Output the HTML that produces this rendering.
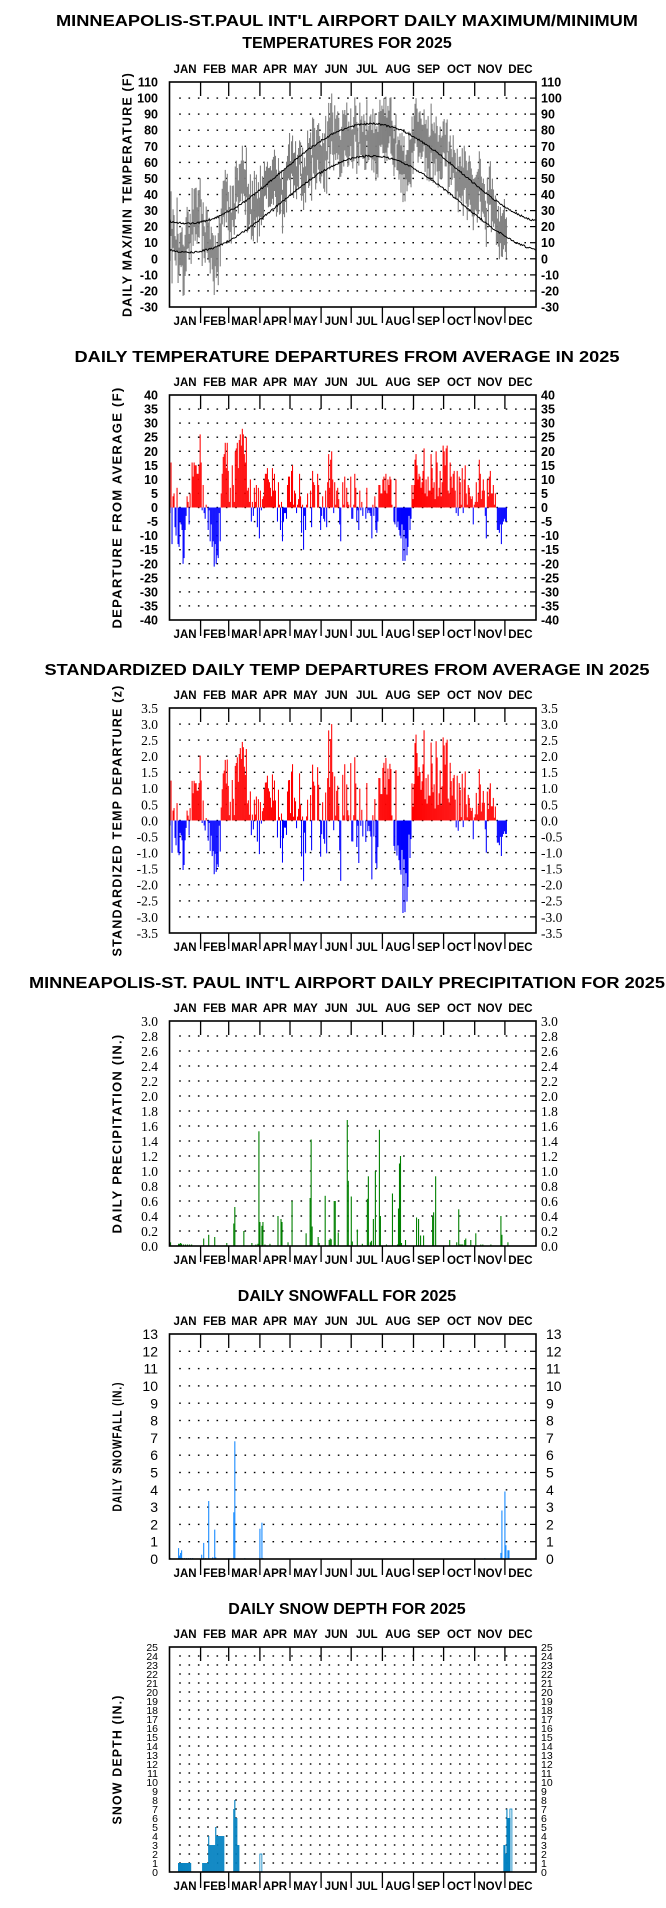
<!DOCTYPE html>
<html><head><meta charset="utf-8">
<style>
html,body{margin:0;padding:0;background:#fff;width:666px;height:1908px;overflow:hidden}
svg{display:block}
</style></head>
<body>
<svg id="s" xmlns="http://www.w3.org/2000/svg" width="666" height="1908" viewBox="0 0 666 1908"></svg>
<script>
(function(){
var S=document.getElementById('s');var out=[];
var L=169.5,R=536,W=R-L,H=225,DX=W/365;
function t(x,y,s,a){out.push('<text x="'+x+'" y="'+y+'" '+(a||'')+'>'+s+'</text>');}
var seed=12345;function rnd(){seed=(seed*16807)%2147483647;return (seed-1)/2147483646;}
var mStart=[0,31,59,90,120,151,181,212,243,273,304,334,365];
var mN=['JAN','FEB','MAR','APR','MAY','JUN','JUL','AUG','SEP','OCT','NOV','DEC'];
function frame(top,c){
  var b=top+H;
  c.title.forEach(function(tl,i){
    t(347,top-(c.title.length==2?(i==0?56:34):33),tl[0],'text-anchor="middle" font-family="Liberation Sans,sans-serif" font-weight="bold" font-size="16"'+(tl[1]?' textLength="'+tl[1]+'" lengthAdjust="spacingAndGlyphs"':''));
  });
  for(var m=0;m<12;m++){var cx=L+(mStart[m]+mStart[m+1])/2*DX;
    t(cx,top-9,mN[m],'text-anchor="middle" font-family="Liberation Sans,sans-serif" font-weight="bold" font-size="11.5"');
    t(cx,b+18,mN[m],'text-anchor="middle" font-family="Liberation Sans,sans-serif" font-weight="bold" font-size="11.5"');}
  for(var m=1;m<12;m++){var x=(L+mStart[m]*DX).toFixed(1);
    out.push('<line x1="'+x+'" y1="'+top+'" x2="'+x+'" y2="'+(top+14)+'" stroke="#000" stroke-width="1.3"/>');
    out.push('<line x1="'+x+'" y1="'+b+'" x2="'+x+'" y2="'+(b+16)+'" stroke="#000" stroke-width="1.3"/>');}
  var n=Math.round((c.ymax-c.ymin)/c.step);
  for(var k=0;k<=n;k++){var v=c.ymin+k*c.step;var y=b-k*H/n;
    var lab=c.fmt?c.fmt(v):String(v);
    t(158,y+c.fs*0.36,lab,'text-anchor="end" '+c.font);
    t(c.rx||541,y+c.fs*0.36,lab,c.font);
    if(k>0&&k<n){out.push('<line x1="'+(R-6)+'" y1="'+y.toFixed(1)+'" x2="'+R+'" y2="'+y.toFixed(1)+'" stroke="#000" stroke-width="1.2"/>');
      for(var x=L+9.7;x<R-8;x+=9.33)out.push('<rect x="'+x.toFixed(1)+'" y="'+(y-0.7).toFixed(1)+'" width="1.6" height="1.4" fill="#000"/>');}
  }
  var cy=top+H/2;
  out.push('<text x="0" y="0" transform="translate('+(c.tx+4.5)+','+cy+') rotate(-90)" text-anchor="middle" font-family="Liberation Sans,sans-serif" font-weight="bold" font-size="12.5" letter-spacing="1.2" textLength="'+c.tl+'" lengthAdjust="spacingAndGlyphs">'+c.yt+'</text>');
}
function box(top){out.push('<rect x="'+L+'" y="'+top+'" width="'+W+'" height="'+H+'" fill="none" stroke="#000" stroke-width="1.6"/>');}
function Y(top,c,v){return top+H-(v-c.ymin)/(c.ymax-c.ymin)*H;}
var BS='font-family="Liberation Sans,sans-serif" font-weight="bold" font-size="12.5"';
var SR='font-family="Liberation Serif,serif" font-size="13.5"';
var kf=[[0,6],[4,-3],[9,-12],[14,-22],[17,-10],[21,5],[25,20],[29,25],[33,8],[37,-5],[41,-15],[45,-22],[49,-10],[53,15],[57,22],[61,10],[65,15],[69,22],[73,25],[77,15],[81,8],[85,2],[89,-3],[94,5],[99,10],[104,6],[109,2],[113,-6],[117,8],[124,10],[129,5],[134,-10],[139,5],[144,10],[149,6],[154,-5],[159,12],[164,5],[169,-6],[174,8],[179,3],[184,5],[189,-3],[194,6],[199,3],[204,-10],[209,2],[214,4],[219,5],[224,3],[229,-3],[236,-10],[241,2],[246,15],[251,18],[257,10],[263,15],[269,12],[274,20],[279,10],[284,5],[289,8],[294,4],[299,-3],[304,6],[309,12],[314,-5],[319,10],[324,5],[329,-8],[335,0]];
var ND=336,dep=[];
for(var d=0;d<ND;d++){var j=0;while(j<kf.length-2&&kf[j+1][0]<=d)j++;var a=kf[j],bq=kf[j+1];var f=(d-a[0])/(bq[0]-a[0]);if(f>1)f=1;
  var base=a[1]+(bq[1]-a[1])*f;var nz=(rnd()-0.5)*18;if(rnd()<0.15)nz*=1.6;
  dep.push(Math.round(base*0.85+nz));}
function ang(d){return 2*Math.PI*(d-200)/365;}
function nmax(d){return 53+31*Math.cos(ang(d));}
function nmin(d){return 34+30*Math.cos(ang(d));}
var T1=82,c1={ymin:-30,ymax:110,step:10,font:BS,fs:12.5,tx:127,tl:245,yt:'DAILY MAX/MIN TEMPERATURE (F)',title:[['MINNEAPOLIS-ST.PAUL INT\'L AIRPORT DAILY MAXIMUM/MINIMUM',582],['TEMPERATURES FOR 2025',0]]};
frame(T1,c1);
for(var d=0;d<ND;d++){var hi=nmax(d)+dep[d]+(rnd()-0.5)*12+3,lo=nmin(d)+dep[d]+(rnd()-0.5)*12-3;if(lo>hi-3)lo=hi-3;
  var y1=Y(T1,c1,hi),y2=Y(T1,c1,lo);out.push('<rect x="'+(L+d*DX).toFixed(2)+'" y="'+y1.toFixed(1)+'" width="1.1" height="'+(y2-y1).toFixed(1)+'" fill="#808080"/>');}
var p1=[],p2=[];for(var d=0;d<365;d++){var x=(L+d*DX+0.5).toFixed(1);p1.push(x+','+Y(T1,c1,nmax(d)+(rnd()-0.5)*1.2).toFixed(1));p2.push(x+','+Y(T1,c1,nmin(d)+(rnd()-0.5)*1.2).toFixed(1));}
out.push('<polyline points="'+p1.join(' ')+'" fill="none" stroke="#000" stroke-width="1"/>');
out.push('<polyline points="'+p2.join(' ')+'" fill="none" stroke="#000" stroke-width="1"/>');
box(T1);
var T2=395,c2={ymin:-40,ymax:40,step:5,font:BS,fs:12.5,tx:117,tl:242,yt:'DEPARTURE FROM AVERAGE (F)',title:[['DAILY TEMPERATURE DEPARTURES FROM AVERAGE IN 2025',545]]};
frame(T2,c2);
var z2=Y(T2,c2,0);
for(var d=0;d<ND;d++){var v=dep[d];if(!v)continue;var yv=Y(T2,c2,v);
  out.push('<rect x="'+(L+d*DX).toFixed(2)+'" y="'+Math.min(yv,z2).toFixed(1)+'" width="1.05" height="'+Math.abs(yv-z2).toFixed(1)+'" fill="'+(v>0?'#ff0000':'#0000ff')+'"/>');}
box(T2);
var T3=708,c3={ymin:-3.5,ymax:3.5,step:0.5,font:SR,fs:13.5,tx:117,tl:272,yt:'STANDARDIZED TEMP DEPARTURE (z)',fmt:function(v){return v.toFixed(1);},title:[['STANDARDIZED DAILY TEMP DEPARTURES FROM AVERAGE IN 2025',605]]};
frame(T3,c3);
var z3=Y(T3,c3,0);
for(var d=0;d<ND;d++){var sd=9.5+3.5*Math.cos(2*Math.PI*(d-15)/365);var v=dep[d]/sd;if(!dep[d])continue;var yv=Y(T3,c3,v);
  out.push('<rect x="'+(L+d*DX).toFixed(2)+'" y="'+Math.min(yv,z3).toFixed(1)+'" width="1.05" height="'+Math.abs(yv-z3).toFixed(1)+'" fill="'+(v>0?'#ff0000':'#0000ff')+'"/>');}
box(T3);
var T4=1021,c4={ymin:0,ymax:3.0,step:0.2,font:SR,fs:13.5,tx:117,tl:200,yt:'DAILY PRECIPITATION (IN.)',fmt:function(v){return v.toFixed(1);},title:[['MINNEAPOLIS-ST. PAUL INT\'L AIRPORT DAILY PRECIPITATION FOR 2025',636]]};
frame(T4,c4);
var pr=[[1,.05],[9,.03],[10,.03],[11,.04],[12,.03],[14,.02],[16,.02],[18,.02],[20,.02],[22,.02],[34,.1],[39,.15],[45,.12],[57,.04],[64,.3],[65,.52],[74,.2],[82,.04],[86,.02],[88,.03],[89,1.53],[90,.32],[92,.27],[93,.32],[95,.02],[100,.03],[108,.4],[111,.36],[112,.32],[118,.05],[122,.6],[136,.17],[140,.64],[141,1.42],[142,.26],[148,.12],[149,.04],[155,.67],[159,.08],[160,.1],[161,.09],[164,.6],[165,.6],[168,.18],[177,1.68],[178,.87],[181,.66],[182,.06],[187,.22],[192,.03],[197,.63],[198,.93],[200,.05],[201,.07],[203,.36],[205,1.0],[209,1.55],[210,.4],[216,.02],[222,.7],[227,.02],[228,.5],[229,1.1],[230,1.2],[231,.04],[235,.08],[246,.38],[248,.36],[250,.14],[253,.14],[262,.4],[263,.45],[265,.93],[279,.08],[286,.05],[288,.49],[289,.02],[290,.02],[291,.02],[292,.02],[294,.08],[295,.1],[300,.08],[305,.17],[310,.02],[312,.02],[320,.02],[330,.4],[331,.15],[337,.05]];
pr.forEach(function(p){var yv=Y(T4,c4,p[1]);out.push('<rect x="'+(L+p[0]*DX-0.5).toFixed(2)+'" y="'+yv.toFixed(1)+'" width="1.1" height="'+(T4+H-yv).toFixed(1)+'" fill="#008000"/>');});
box(T4);
var T5=1334,c5={ymin:0,ymax:13,step:1,font:'font-family="Liberation Sans,sans-serif" font-size="14"',fs:14,rx:546,tx:117,tl:130,yt:'DAILY SNOWFALL (IN.)',title:[['DAILY SNOWFALL FOR 2025',0]]};
frame(T5,c5);
var sf=[[1,.05],[9,.63],[10,.2],[11,.35],[12,.5],[13,.05],[15,.05],[17,.05],[19,.05],[21,.05],[23,.05],[32,.25],[34,.93],[36,.05],[39,3.35],[43,.1],[45,1.7],[46,.1],[59,.05],[64,2.7],[65,6.8],[75,.05],[90,1.75],[92,2.1],[93,.05],[314,.05],[330,.35],[331,2.8],[334,3.9],[335,.8],[337,.5],[338,.5]];
sf.forEach(function(p){var yv=Y(T5,c5,p[1]);out.push('<rect x="'+(L+p[0]*DX-0.5).toFixed(2)+'" y="'+yv.toFixed(1)+'" width="1.1" height="'+(T5+H-yv).toFixed(1)+'" fill="#1a8cff"/>');});
box(T5);
var T6=1647,c6={ymin:0,ymax:25,step:1,font:'font-family="Liberation Sans,sans-serif" font-size="10.5"',fs:10.5,tx:117,tl:130,yt:'SNOW DEPTH (IN.)',title:[['DAILY SNOW DEPTH FOR 2025',0]]};
frame(T6,c6);
var sdp=[];function rng(a,b,v){for(var d=a;d<=b;d++)sdp.push([d,v]);}
rng(9,21,1);rng(33,38,1);rng(39,39,4);rng(40,45,3);rng(46,46,5);rng(47,54,4);rng(64,64,7);rng(65,65,8);rng(66,67,6);rng(68,69,3);rng(333,334,3);rng(335,335,2);rng(336,336,7);rng(337,339,6);
sdp.forEach(function(p){var yv=Y(T6,c6,p[1]);out.push('<rect x="'+(L+p[0]*DX-0.5).toFixed(2)+'" y="'+yv.toFixed(1)+'" width="1.1" height="'+(T6+H-yv).toFixed(1)+'" fill="#0080c0"/>');});
[[91,2],[340,7]].forEach(function(p){var yv=Y(T6,c6,p[1]);out.push('<rect x="'+(L+p[0]*DX-1).toFixed(2)+'" y="'+yv.toFixed(1)+'" width="2" height="'+(T6+H-yv).toFixed(1)+'" fill="none" stroke="#0080c0" stroke-width="0.8"/>');});
box(T6);
S.innerHTML=out.join('');
})();
</script>
</body></html>
